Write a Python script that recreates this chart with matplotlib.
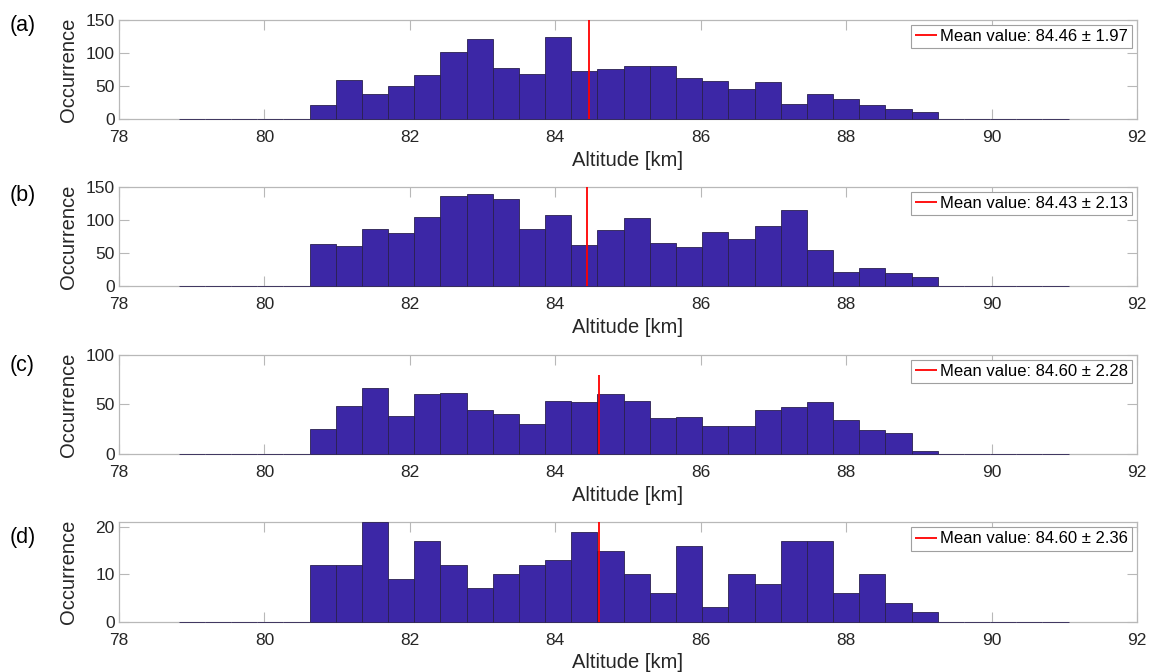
import numpy as np
import matplotlib
matplotlib.use("Agg")
import matplotlib.pyplot as plt

plt.rcParams['font.family'] = ['Liberation Sans', 'DejaVu Sans']

# Histogram bins (km)
bin_start = 78.82
bin_width = 0.36
n_bins = 34

# Occurrence counts per bin for each panel
counts_a = [0, 0, 0, 0, 0, 21, 59, 38, 50, 67, 101, 121, 77, 68, 124, 73, 76,
            81, 81, 62, 58, 46, 57, 23, 38, 31, 21, 15, 11, 0, 0, 0, 0, 0]
counts_b = [0, 0, 0, 0, 0, 64, 61, 86, 80, 105, 136, 140, 132, 86, 107, 62, 85,
            103, 66, 59, 82, 71, 91, 115, 55, 22, 28, 20, 14, 1, 0, 0, 0, 0]
counts_c = [0, 0, 0, 0, 0, 25, 48, 66, 38, 60, 61, 44, 40, 30, 53, 52, 60,
            53, 36, 37, 28, 28, 44, 47, 52, 34, 24, 21, 3, 0, 0, 0, 0, 0]
counts_d = [0, 0, 0, 0, 0, 12, 12, 21, 9, 17, 12, 7, 10, 12, 13, 19, 15,
            10, 6, 16, 3, 10, 8, 17, 17, 6, 10, 4, 2, 0, 0, 0, 0, 0]

means = [84.46, 84.43, 84.60, 84.60]
stds = [1.97, 2.13, 2.28, 2.36]
mean_line_tops = [150, 150, 80, 21]
panel_labels = ['(a)', '(b)', '(c)', '(d)']
y_limits = [150, 150, 100, 21]
y_ticks = [[0, 50, 100, 150], [0, 50, 100, 150], [0, 50, 100], [0, 10, 20]]
x_ticks = [78, 80, 82, 84, 86, 88, 90, 92]

all_counts = [counts_a, counts_b, counts_c, counts_d]
bin_left = bin_start + bin_width * np.arange(n_bins)

W, H = 1155, 672
fig = plt.figure(figsize=(W / 100, H / 100), dpi=100)

bar_color = '#3c27a6'
edge_color = '#2a2050'
spine_color = '#b8b8b8'
text_color = '#262626'

ax_left, ax_right = 119, 1137
ax_tops = [20, 187, 354.7, 522.3]
ax_h = 99.3
label_y = [25, 195, 365, 537]

for i in range(4):
    top = ax_tops[i]
    ax = fig.add_axes([ax_left / W, 1 - (top + ax_h) / H,
                       (ax_right - ax_left) / W, ax_h / H])
    ax.bar(bin_left, all_counts[i], width=bin_width, align='edge',
           color=bar_color, edgecolor=edge_color, linewidth=0.6, zorder=2,
           clip_on=False)
    ax.vlines(means[i], 0, mean_line_tops[i], color='#ff0000', lw=1.3, zorder=3,
              label=f'Mean value: {means[i]:.2f} \u00b1 {stds[i]:.2f}')
    ax.set_xlim(78, 92)
    ax.set_ylim(0, y_limits[i])
    ax.set_xticks(x_ticks)
    ax.set_yticks(y_ticks[i])
    for s in ax.spines.values():
        s.set_color(spine_color)
        s.set_linewidth(0.9)
        s.set_zorder(1.5)
    ax.tick_params(direction='in', length=7.2, width=0.8, color=spine_color,
                   labelcolor=text_color, labelsize=12.5,
                   top=True, right=True)
    ax.tick_params(axis='x', pad=8)
    ax.tick_params(axis='y', pad=3)
    ax.set_xlabel('Altitude [km]', fontsize=14.5, color=text_color, labelpad=4)
    ax.set_ylabel('Occurrence', fontsize=14.5, color=text_color)
    ax.yaxis.set_label_coords(-0.04, 0.5)
    leg = ax.legend(loc='upper right', fontsize=12, frameon=True, fancybox=False,
                    framealpha=1, edgecolor='#a0a0a0', borderpad=0.25,
                    handlelength=1.35, handletextpad=0.15, borderaxespad=0.3)
    leg.get_frame().set_linewidth(0.8)
    for t in leg.get_texts():
        t.set_color('#000000')
    fig.text(10 / W, 1 - label_y[i] / H, panel_labels[i], fontsize=15.5,
             va='center', ha='left', color='#000000')

fig.savefig('out.png', dpi=100)
